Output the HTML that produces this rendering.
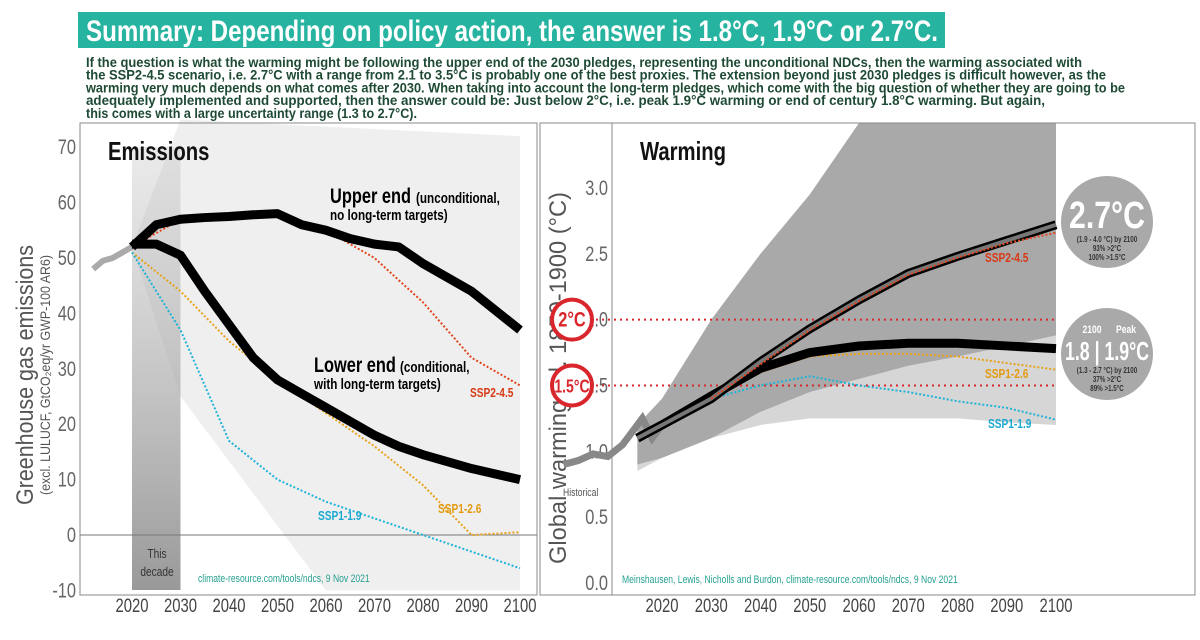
<!DOCTYPE html>
<html><head><meta charset="utf-8"><style>
body{margin:0;width:1200px;height:640px;background:#fff;overflow:hidden;font-family:"Liberation Sans",sans-serif}
svg{position:absolute;left:0;top:0}
</style></head><body>
<svg id="chart" width="1200" height="640"></svg>
<script>
const emYears=[2020,2025,2030,2035,2040,2045,2050,2055,2060,2065,2070,2075,2080,2090,2100];
const upperEnd=[52,56,57,57.3,57.5,57.8,58,56,55,53.5,52.5,52,49,44,37];
const lowerEnd=[52.5,52.5,50.5,44,38,32,28,25.5,23,20.5,18,16,14.5,12,10];
const ssYears=[2020,2030,2040,2050,2060,2070,2080,2090,2100];
const ssp245=[52,57,57,57.5,55,50,42,32,27];
const ssp126=[51,44,35,28,22,16,9,0,0.5];
const ssp119=[51,37,17,10,6,3,0,-3,-6];
const histEmYears=[2012,2014,2016,2018,2020];
const histEm=[48,49.5,50,51,52];
const emTicks=[-10,0,10,20,30,40,50,60,70];
const yearTicks=[2020,2030,2040,2050,2060,2070,2080,2090,2100];
const wYears=[2015,2020,2030,2040,2050,2060,2070,2080,2090,2100];
const wUpper=[1.1,1.2,1.4,1.68,1.93,2.15,2.35,2.48,2.6,2.72];
const wLower=[1.1,1.2,1.42,1.63,1.75,1.8,1.82,1.82,1.8,1.78];
const w126Years=[2030,2040,2050,2060,2070,2080,2090,2100];
const w126=[1.4,1.6,1.72,1.74,1.74,1.72,1.67,1.62];
const w119=[1.4,1.5,1.57,1.5,1.45,1.38,1.33,1.24];
const w245=[1.4,1.66,1.92,2.14,2.34,2.47,2.58,2.66];
const darkHi=[1.2,1.4,2.0,2.5,2.95,3.5,3.5,3.5,3.5,3.5];
const darkLo=[0.9,0.95,1.1,1.3,1.45,1.55,1.65,1.72,1.8,1.88];
const lightHi=[1.2,1.3,1.65,1.95,2.2,2.4,2.55,2.65,2.7,2.75];
const lightLo=[0.85,0.95,1.1,1.2,1.25,1.25,1.25,1.25,1.22,1.2];
const histWYears=[2000,2003,2006,2009,2012,2014,2016,2018,2020];
const histW=[0.9,0.93,0.98,0.96,1.05,1.15,1.25,1.1,1.2];
const wTicks=[0.0,0.5,1.0,1.5,2.0,2.5,3.0];

const S=document.getElementById('chart');const NS='http://www.w3.org/2000/svg';
function mk(t,a,p){const e=document.createElementNS(NS,t);for(const k in a)e.setAttribute(k,a[k]);(p||S).appendChild(e);return e;}
const ex=y=>132+(y-2020)*4.85, ey=v=>535-v*5.54;
const wx=y=>662+(y-2020)*4.925, wy=v=>583-v*131.7;
function line(xs,ys,fx,fy,st,name){const d=xs.map((x,i)=>(i?'L':'M')+fx(x)+','+fy(ys[i])).join('');const p=mk('path',Object.assign({d:d,fill:'none'},st));return p;}
function band(xs,hi,lo,fx,fy,fill,name){let d=xs.map((x,i)=>(i?'L':'M')+fx(x)+','+Math.max(123,fy(hi[i]))).join('');for(let i=xs.length-1;i>=0;i--)d+='L'+fx(xs[i])+','+fy(lo[i]);const p=mk('path',{d:d+'Z',fill:fill});}
function txt(x,y,s,st,name,len){const t=mk('text',Object.assign({x:x,y:y,'font-family':'"Liberation Sans",sans-serif'},st));t.textContent=s;
 const L=len||t.getComputedTextLength()*0.78;t.setAttribute('textLength',L);t.setAttribute('lengthAdjust','spacingAndGlyphs');return t;}

// header
const tb=mk('rect',{x:78,y:12,width:867,height:36,fill:'#26b3a0'});
txt(86,41,'Summary: Depending on policy action, the answer is 1.8°C, 1.9°C or 2.7°C.',{'font-size':30,'font-weight':'bold',fill:'#fff'},'title',852);
const para=[['If the question is what the warming might be following the upper end of the 2030 pledges, representing the unconditional NDCs, then the warming associated with',996],
['the SSP2-4.5 scenario, i.e. 2.7°C with a range from 2.1 to 3.5°C is probably one of the best proxies. The extension beyond just 2030 pledges is difficult however, as the',1020],
['warming very much depends on what comes after 2030. When taking into account the long-term pledges, which come with the big question of whether they are going to be',1039],
['adequately implemented and supported, then the answer could be: Just below 2°C, i.e. peak 1.9°C warming or end of century 1.8°C warming. But again,',959],
['this comes with a large uncertainty range (1.3 to 2.7°C).',331]];
para.forEach((p,i)=>txt(86,67+i*12.7,p[0],{'font-size':14,'font-weight':'bold',fill:'#1e4a34'},'summary-text-line',p[1]));

// left panel
const fan=mk('path',{d:`M${ex(2020)},${ey(52)}L${ex(2030)},${ey(75)}L${ex(2100)},${ey(72)}L${ex(2100)},${ey(-10)}L${ex(2060)},${ey(-10)}L${ex(2030)},${ey(25)}Z`,fill:'#efefef'});

const defs=mk('defs',{});const g=mk('linearGradient',{id:'dec',x1:0,y1:0,x2:0,y2:1},defs);
mk('stop',{offset:0,'stop-color':'#bbb','stop-opacity':0.3},g);mk('stop',{offset:1,'stop-color':'#999'},g);
const dec=mk('rect',{x:ex(2020),y:147,width:ex(2030)-ex(2020),height:443,fill:'url(#dec)'});

const lf=mk('rect',{x:80,y:123,width:457,height:472,fill:'none',stroke:'#888','stroke-width':1});

txt(157,558,'This',{'font-size':13,fill:'#333','text-anchor':'middle'},'this-decade-label');
txt(157,576,'decade',{'font-size':13,fill:'#333','text-anchor':'middle'},'this-decade-label');
const zl=mk('line',{x1:80,x2:537,y1:ey(0),y2:ey(0),stroke:'#777'});
emTicks.forEach(v=>txt(76,ey(v)+7,String(v),{'font-size':21,fill:'#666','text-anchor':'end'},'y-tick-label'));
yearTicks.forEach(v=>txt(ex(v),612,String(v),{'font-size':19,fill:'#444','text-anchor':'middle'},'x-tick-label'));
txt(0,0,'Greenhouse gas emissions',{'font-size':24,fill:'#555','text-anchor':'middle',transform:'translate(33,375) rotate(-90)'},'y-axis-title',260);
txt(0,0,'(excl. LULUCF, GtCO₂eq/yr GWP-100 AR6)',{'font-size':14,fill:'#555','text-anchor':'middle',transform:'translate(50,375) rotate(-90)'},'y-axis-subtitle',240);
txt(108,160,'Emissions',{'font-size':26,'font-weight':'bold',fill:'#111'},'panel-title-emissions');
line(histEmYears,histEm,ex,ey,{stroke:'#aaa','stroke-width':6},'historical-emissions');
line(ssYears,ssp245,ex,ey,{stroke:'#e0441c','stroke-width':2,'stroke-dasharray':'2,2'},'ssp2-45-emissions');
line(ssYears,ssp126,ex,ey,{stroke:'#e8a21a','stroke-width':2,'stroke-dasharray':'2,2'},'ssp1-26-emissions');
line(ssYears,ssp119,ex,ey,{stroke:'#1eb3d8','stroke-width':2,'stroke-dasharray':'2,2'},'ssp1-19-emissions');
line(emYears,upperEnd,ex,ey,{stroke:'#000','stroke-width':9,'stroke-linejoin':'round'},'upper-end-emissions');
line(emYears,lowerEnd,ex,ey,{stroke:'#000','stroke-width':9,'stroke-linejoin':'round'},'lower-end-emissions');
txt(330,203,'Upper end',{'font-size':21,'font-weight':'bold',fill:'#000'},'upper-end-label');
txt(416,203,'(unconditional,',{'font-size':15,'font-weight':'bold',fill:'#000'},'upper-end-note');
txt(330,220,'no long-term targets)',{'font-size':15,'font-weight':'bold',fill:'#000'},'upper-end-note');
txt(314,372,'Lower end',{'font-size':21,'font-weight':'bold',fill:'#000'},'lower-end-label');
txt(400,372,'(conditional,',{'font-size':15,'font-weight':'bold',fill:'#000'},'lower-end-note');
txt(314,389,'with long-term targets)',{'font-size':15,'font-weight':'bold',fill:'#000'},'lower-end-note');
txt(470,397,'SSP2-4.5',{'font-size':13,'font-weight':'bold',fill:'#d83a15'},'ssp2-45-label');
txt(438,513,'SSP1-2.6',{'font-size':13,'font-weight':'bold',fill:'#e39a10'},'ssp1-26-label');
txt(318,520,'SSP1-1.9',{'font-size':13,'font-weight':'bold',fill:'#1aa8d0'},'ssp1-19-label');
txt(198,582,'climate-resource.com/tools/ndcs, 9 Nov 2021',{'font-size':11,fill:'#26a090'},'source-left');

// right panel
band(wYears,lightHi,lightLo,wx,wy,'#d6d6d6','warming-range-lower');
band(wYears,darkHi,darkLo,wx,wy,'#a9a9a9','warming-range-upper');
const rf=mk('rect',{x:540,y:123,width:655,height:472,fill:'none',stroke:'#888','stroke-width':1});

const ax=mk('line',{x1:612,x2:612,y1:123,y2:595,stroke:'#888'});
wTicks.forEach(v=>txt(608,wy(v)+7,v.toFixed(1),{'font-size':21,fill:'#666','text-anchor':'end'},'y-tick-label'));
yearTicks.forEach(v=>txt(wx(v),612,String(v),{'font-size':19,fill:'#444','text-anchor':'middle'},'x-tick-label'));
txt(0,0,'Global warming rel. 1850-1900 (°C)',{'font-size':24,fill:'#555','text-anchor':'middle',transform:'translate(566,378) rotate(-90)'},'y-axis-title',372);
txt(640,160,'Warming',{'font-size':26,'font-weight':'bold',fill:'#111'},'panel-title-warming');
[[2,'2°C'],[1.5,'1.5°C']].forEach(([v,s])=>{
 const l=mk('line',{x1:590,x2:wx(2100),y1:wy(v),y2:wy(v),stroke:'#d8262c','stroke-width':2,'stroke-dasharray':'2,4'});
 const c=mk('circle',{cx:572,cy:wy(v),r:20,fill:'#fff',stroke:'#d8262c','stroke-width':4});
 txt(572,wy(v)+7,s,{'font-size':v==2?21:18,'font-weight':'bold',fill:'#d8262c','text-anchor':'middle'},'threshold-label');});
line(histWYears,histW,wx,wy,{stroke:'#888','stroke-width':7},'historical-warming');
txt(563,496,'Historical',{'font-size':11,fill:'#555'},'historical-label');
line(w126Years,w126,wx,wy,{stroke:'#e8a21a','stroke-width':2,'stroke-dasharray':'2,2'},'ssp1-26-warming');
line(w126Years,w119,wx,wy,{stroke:'#1eb3d8','stroke-width':2,'stroke-dasharray':'2,2'},'ssp1-19-warming');
line(wYears,wLower,wx,wy,{stroke:'#000','stroke-width':9,'stroke-linejoin':'round'},'lower-end-warming');
line(wYears,wUpper,wx,wy,{stroke:'#000','stroke-width':9,'stroke-linejoin':'round'},'upper-end-warming');
line(wYears,wUpper,wx,wy,{stroke:'#777','stroke-width':4},'upper-end-warming-core');
line(w126Years,w245,wx,wy,{stroke:'#e0441c','stroke-width':2,'stroke-dasharray':'2,2'},'ssp2-45-warming');
txt(985,262,'SSP2-4.5',{'font-size':13,'font-weight':'bold',fill:'#d83a15'},'ssp2-45-label');
txt(985,378,'SSP1-2.6',{'font-size':13,'font-weight':'bold',fill:'#e39a10'},'ssp1-26-label');
txt(988,428,'SSP1-1.9',{'font-size':13,'font-weight':'bold',fill:'#1aa8d0'},'ssp1-19-label');
txt(622,583,'Meinshausen, Lewis, Nicholls and Burdon, climate-resource.com/tools/ndcs, 9 Nov 2021',{'font-size':11,fill:'#26a090'},'source-right');
// badges
const b1=mk('circle',{cx:1107,cy:222,r:46,fill:'#a9a9a9'});
txt(1107,228,'2.7°C',{'font-size':38,'font-weight':'bold',fill:'#fff','text-anchor':'middle'},'badge-upper-value',76);
txt(1107,242,'(1.9 - 4.0 °C) by 2100',{'font-size':8,'font-weight':'bold',fill:'#333','text-anchor':'middle'},'badge-upper-range');
txt(1107,251,'93% >2°C',{'font-size':8,'font-weight':'bold',fill:'#333','text-anchor':'middle'},'badge-upper-p2');
txt(1107,260,'100% >1.5°C',{'font-size':8,'font-weight':'bold',fill:'#333','text-anchor':'middle'},'badge-upper-p15');
const b2=mk('circle',{cx:1107,cy:354,r:46,fill:'#a9a9a9'});
txt(1092,333,'2100',{'font-size':11,'font-weight':'bold',fill:'#fff','text-anchor':'middle'},'badge-lower-2100');
txt(1126,333,'Peak',{'font-size':11,'font-weight':'bold',fill:'#fff','text-anchor':'middle'},'badge-lower-peak');
txt(1107,360,'1.8 | 1.9°C',{'font-size':26,'font-weight':'bold',fill:'#fff','text-anchor':'middle'},'badge-lower-value',84);
txt(1107,373,'(1.3 - 2.7 °C) by 2100',{'font-size':8,'font-weight':'bold',fill:'#333','text-anchor':'middle'},'badge-lower-range');
txt(1107,382,'37% >2°C',{'font-size':8,'font-weight':'bold',fill:'#333','text-anchor':'middle'},'badge-lower-p2');
txt(1107,391,'89% >1.5°C',{'font-size':8,'font-weight':'bold',fill:'#333','text-anchor':'middle'},'badge-lower-p15');
</script>
</body></html>
